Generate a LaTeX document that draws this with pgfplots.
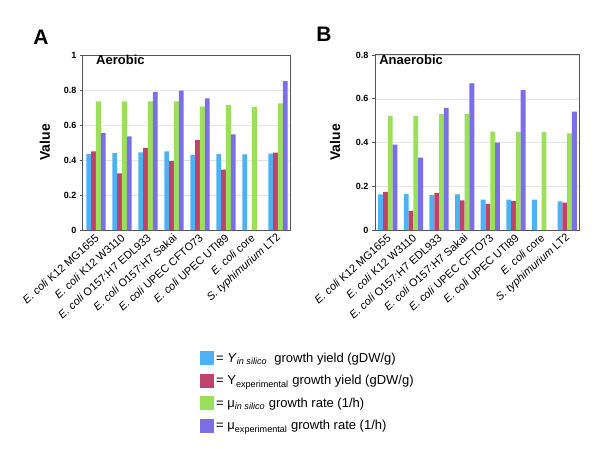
\documentclass[border=0pt]{standalone}
\usepackage{fontspec}
\setmainfont{Liberation Sans}
\usepackage{pgfplots}
\pgfplotsset{compat=1.18}
\usepackage{pgfplotstable}

\definecolor{ysil}{HTML}{4CB2F5}
\definecolor{yexp}{HTML}{C0426A}
\definecolor{musil}{HTML}{9BE05B}
\definecolor{muexp}{HTML}{7A6FE6}
\definecolor{framegray}{HTML}{555555}
\definecolor{gridgray}{HTML}{E4E4E4}

% aerobic
\pgfplotstableread{
x ysil yexp musil muexp
0 0.434 0.450 0.735 0.554
1 0.440 0.324 0.735 0.535
2 0.444 0.469 0.735 0.790
3 0.450 0.394 0.735 0.797
4 0.430 0.514 0.705 0.752
5 0.434 0.345 0.714 0.547
6 0.432 nan   0.703 nan
7 0.436 0.442 0.724 0.851
}\aerobic

% anaerobic
\pgfplotstableread{
x ysil yexp musil muexp
0 0.163 0.174 0.521 0.390
1 0.165 0.088 0.521 0.331
2 0.160 0.169 0.530 0.558
3 0.163 0.136 0.530 0.670
4 0.139 0.119 0.450 0.400
5 0.139 0.133 0.447 0.640
6 0.139 nan   0.448 nan
7 0.131 0.125 0.442 0.541
}\anaerobic

\pgfplotsset{
  panel/.style={
    scale only axis,
    height=175pt,
    ybar=0pt, bar width=4.8pt,
    xmin=-0.5, xmax=7.5, ymin=0,
    xtick={0,...,7},
    xticklabels={
      {\textit{E. coli} K12 MG1655},
      {\textit{E. coli} K12 W3110},
      {\textit{E. coli} O157:H7 EDL933},
      {\textit{E. coli} O157:H7 Sakai},
      {\textit{E. coli} UPEC CFTO73},
      {\textit{E. coli} UPEC UTI89},
      {\textit{E. coli} core},
      {\textit{S. typhimurium} LT2}},
    xtick style={draw=none},
    ytick pos=left,
    ytick style={draw=framegray, line width=0.6pt},
    tick align=outside, major tick length=3pt,
    ymajorgrids, grid style={gridgray, line width=0.5pt},
    axis line style={framegray, line width=1pt},
    yticklabel style={font=\fontsize{9}{10}\selectfont\bfseries,
      /pgf/number format/assume math mode=true},
    xticklabel style={font=\fontsize{11}{12}\selectfont, rotate=42,
      anchor=east, inner sep=1pt, yshift=-3pt},
    ylabel={Value},
    ylabel style={font=\fontsize{14}{16}\selectfont\bfseries, anchor=center},
    title style={font=\fontsize{13}{15}\selectfont\bfseries, anchor=west, inner sep=0pt},
    legend image code/.code={\fill[##1] (0pt,-7pt) rectangle (14pt,7pt);},
  },
  every axis plot/.append style={draw=none},
}

\begin{document}
\begin{tikzpicture}
\useasboundingbox (0,0) rectangle (600pt,448pt);

\node[font=\fontsize{21}{24}\selectfont\bfseries] at (41pt,411pt) {A};
\node[font=\fontsize{21}{24}\selectfont\bfseries] at (324pt,414pt) {B};

\begin{axis}[panel,
    at={(83pt,218pt)}, anchor=south west, width=208pt,
    ymax=1, ytick={0,0.2,0.4,0.6,0.8,1},
    ylabel style={at={(axis description cs:-0.183,0.5)}},
    title={Aerobic}, title style={at={(axis description cs:0.0625,0.937)}},
    legend cell align=left,
    legend style={at={(axis description cs:0.5625,-0.69)}, anchor=north west,
      draw=none, fill=none, font=\fontsize{13}{15}\selectfont,
      row sep=7.5pt, inner sep=0pt,
      /tikz/every even column/.append style={column sep=4pt}},
  ]
\addplot[fill=ysil] table[x=x, y=ysil] {\aerobic};
\addlegendentry{= \textit{Y}\textsubscript{\textit{in silico}}\ \ growth yield (gDW/g)}
\addplot[fill=yexp] table[x=x, y=yexp] {\aerobic};
\addlegendentry{= Y\textsubscript{experimental} growth yield (gDW/g)}
\addplot[fill=musil] table[x=x, y=musil] {\aerobic};
\addlegendentry{= μ\textsubscript{\textit{in silico}} growth rate (1/h)}
\addplot[fill=muexp] table[x=x, y=muexp] {\aerobic};
\addlegendentry{= μ\textsubscript{experimental} growth rate (1/h)}
\end{axis}

\begin{axis}[panel,
    at={(375pt,218pt)}, anchor=south west, width=205pt,
    ymax=0.8, ytick={0,0.2,0.4,0.6,0.8},
    ylabel style={at={(axis description cs:-0.195,0.5)}},
    title={Anaerobic}, title style={at={(axis description cs:0.02,0.937)}},
  ]
\addplot[fill=ysil] table[x=x, y=ysil] {\anaerobic};
\addplot[fill=yexp] table[x=x, y=yexp] {\anaerobic};
\addplot[fill=musil] table[x=x, y=musil] {\anaerobic};
\addplot[fill=muexp] table[x=x, y=muexp] {\anaerobic};
\end{axis}
\end{tikzpicture}
\end{document}
